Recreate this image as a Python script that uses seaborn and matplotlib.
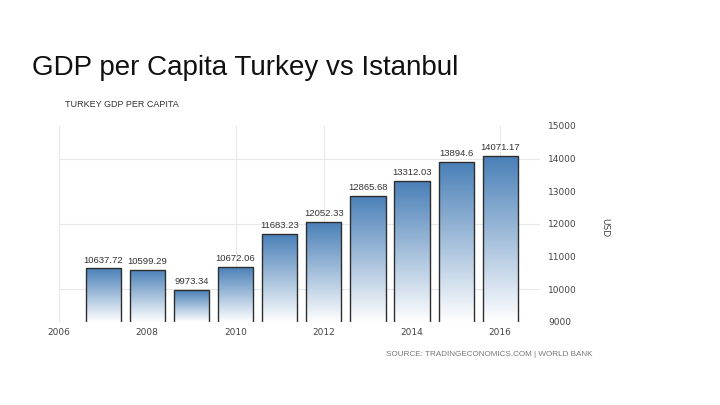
import numpy as np
import pandas as pd
import matplotlib
matplotlib.use("Agg")
import matplotlib.pyplot as plt
import seaborn as sns
from matplotlib.colors import LinearSegmentedColormap

# data
years = [2007, 2008, 2009, 2010, 2011, 2012, 2013, 2014, 2015, 2016]
gdp = [10637.72, 10599.29, 9973.34, 10672.06, 11683.23, 12052.33,
       12865.68, 13312.03, 13894.6, 14071.17]
value_labels = ["10637.72", "10599.29", "9973.34", "10672.06", "11683.23",
                "12052.33", "12865.68", "13312.03", "13894.6", "14071.17"]
x_ticks = [2006, 2008, 2010, 2012, 2014, 2016]
y_ticks = [9000, 10000, 11000, 12000, 13000, 14000, 15000]

df = pd.DataFrame({"year": years, "gdp": gdp})

sns.set_style("white")
plt.rcParams["font.family"] = ["DejaVu Sans"]
small = ["Liberation Sans", "DejaVu Sans"]

fig = plt.figure(figsize=(7.2, 4.05), dpi=100)
ax = fig.add_axes([0.082, 0.205, 0.668, 0.484])

sns.barplot(data=df, x="year", y="gdp", native_scale=True, width=0.8,
            color="#4a80b8", edgecolor="#2e2e2e", linewidth=1.0, ax=ax, zorder=2)

# gradient fill inside each bar
cmap = LinearSegmentedColormap.from_list("grad", ["#ffffff", "#4a80b8"])
grad = np.linspace(0, 1, 256).reshape(-1, 1)
for p in list(ax.patches):
    x0, w, h = p.get_x(), p.get_width(), p.get_height()
    p.set_facecolor("none")
    im = ax.imshow(grad, cmap=cmap, origin="lower", aspect="auto",
                   extent=[x0, x0 + w, 9000, h], zorder=1.5)
    im.set_clip_path(p)
ax.set_xlim(2006, 2016.9)
ax.set_ylim(9000, 15000)

for yr, v, lab in zip(years, gdp, value_labels):
    ax.text(yr, v + 120, lab, ha="center", va="bottom", fontsize=6.8,
            color="#333333", family=small)

# grid
for gy in [10000, 12000, 14000]:
    ax.axhline(gy, color="#e8e8e8", lw=0.8, zorder=0)
for gx in [2006, 2010, 2012, 2016]:
    ax.axvline(gx, color="#e8e8e8", lw=0.8, zorder=0)

ax.yaxis.tick_right()
ax.set_yticks(y_ticks)
ax.set_yticklabels([str(t) for t in y_ticks], fontsize=6.5, color="#444444")
ax.set_xticks(x_ticks)
ax.set_xticklabels([str(t) for t in x_ticks], fontsize=6.5, color="#444444")
ax.tick_params(length=0, pad=4)
ax.tick_params(axis="y", pad=6)
ax.set_xlabel("")
ax.set_ylabel("")
for s in ax.spines.values():
    s.set_visible(False)

fig.text(605 / 720, 1 - 228 / 405, "USD", rotation=270, fontsize=6.5,
         color="#444444", ha="center", va="center")
fig.text(32 / 720, 1 - 68 / 405, "GDP per Capita Turkey vs Istanbul",
         fontsize=20, color="#111111", ha="left", va="center",
         family=small)
fig.text(65 / 720, 1 - 104 / 405, "TURKEY GDP PER CAPITA", fontsize=6.5,
         color="#333333", ha="left", va="center", family=small)
fig.text(592 / 720, 1 - 355 / 405, "SOURCE: TRADINGECONOMICS.COM | WORLD BANK",
         fontsize=5.9, color="#777777", ha="right", va="center", family=small)

fig.savefig("out.png", dpi=100)
